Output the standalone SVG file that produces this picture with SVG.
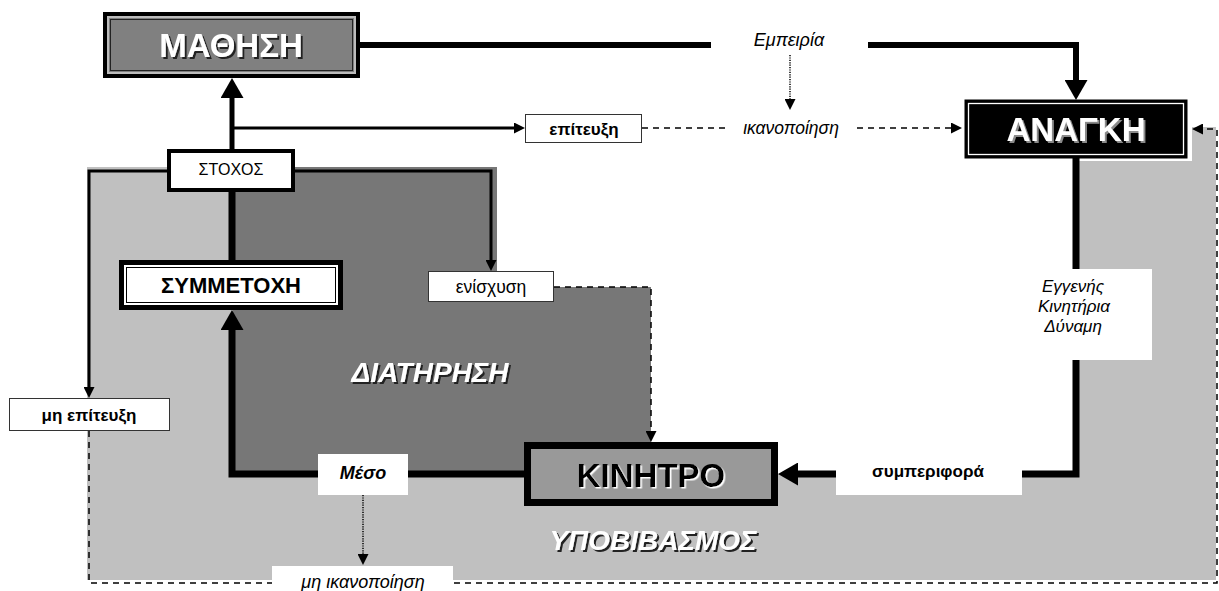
<svg xmlns="http://www.w3.org/2000/svg" width="1219" height="591" viewBox="0 0 1219 591">
<style>
text{font-family:"Liberation Sans",Arial,sans-serif;text-anchor:middle}
.lbl{font-size:17px;fill:#000}
.b{font-weight:bold}
.i{font-style:italic}
.big{font-weight:bold;font-size:33px}
.region{font-weight:bold;font-style:italic;font-size:28px;fill:#fff}
.box{fill:#fff;stroke:#333;stroke-width:1}
.wbox{fill:#fff;stroke:none}
.thick{fill:none;stroke:#000;stroke-linejoin:miter;stroke-linecap:butt}
.dash{fill:none;stroke:#000;stroke-width:1.5;stroke-dasharray:6 5}
.dot{fill:none;stroke:#000;stroke-width:1.5;stroke-dasharray:1.2 1.2}
</style>
<defs>
<marker id="ahBig" viewBox="0 0 20 23" refX="0" refY="11.5" markerWidth="20" markerHeight="23" markerUnits="userSpaceOnUse" orient="auto"><path d="M0,0 L20,11.5 L0,23 z" fill="#000"/></marker>
<marker id="ahSmall" viewBox="0 0 11 11" refX="0" refY="5.5" markerWidth="11" markerHeight="11" markerUnits="userSpaceOnUse" orient="auto"><path d="M0,0 L11,5.5 L0,11 z" fill="#000"/></marker>
<filter id="shDark" x="-10%" y="-20%" width="120%" height="150%"><feDropShadow dx="2" dy="2" stdDeviation="0" flood-color="#222" flood-opacity="1"/></filter>
<filter id="shGray" x="-10%" y="-20%" width="120%" height="150%"><feDropShadow dx="2" dy="2" stdDeviation="0" flood-color="#8a8a8a" flood-opacity="1"/></filter>
<filter id="shLight" x="-10%" y="-20%" width="120%" height="150%"><feDropShadow dx="1.5" dy="1.5" stdDeviation="0" flood-color="#fff" flood-opacity="1"/></filter>
</defs>

<g id="backgrounds">
<polygon points="87,167 497,167 497,287 651,287 651,474 1073,474 1073,161 1192,161 1192,127 1216,127 1216,580 87,580" fill="#c0c0c0"/>
<polygon points="233,167 497,167 497,287 651,287 651,474 233,474" fill="#777777"/>
</g>

<g id="connectors">
<path class="thick" stroke-width="5" d="M232,149 V98" marker-end="url(#ahBig)"/>
<path class="thick" stroke-width="6" d="M360,45 H711"/>
<path class="thick" stroke-width="6" d="M868,45 H1076 V80" marker-end="url(#ahBig)"/>
<path class="dot" d="M790,55 V99" marker-end="url(#ahSmall)"/>
<path class="thick" stroke-width="3" d="M232,128 H514" marker-end="url(#ahSmall)"/>
<path class="dash" d="M642,128 H730"/>
<path class="dash" d="M857,128 H951" marker-end="url(#ahSmall)"/>
<path class="thick" stroke-width="3" d="M167,171 H89 V387" marker-end="url(#ahSmall)"/>
<path class="thick" stroke-width="3" d="M295,171 H491 V260" marker-end="url(#ahSmall)"/>
<path class="thick" stroke-width="7" d="M232,192 V260"/>
<path class="thick" stroke-width="7" d="M524,474 H232 V330" marker-end="url(#ahBig)"/>
<path class="dash" d="M554,287 H651 V431" marker-end="url(#ahSmall)"/>
<path class="thick" stroke-width="7" d="M1076,158 V474 H798" marker-end="url(#ahBig)"/>
<path class="dash" d="M89,431 V583 H1217 V129 H1203" marker-end="url(#ahSmall)"/>
<path class="dot" d="M363,495 V554" marker-end="url(#ahSmall)"/>
</g>

<g id="mathisi">
<rect x="105" y="14" width="253" height="62" fill="#808080" stroke="#000" stroke-width="4"/>
<rect x="108" y="17" width="247" height="56" fill="none" stroke="#bdbdbd" stroke-width="2"/>
<rect x="110.5" y="19.5" width="242" height="51" fill="none" stroke="#222" stroke-width="1"/>
<text x="231" y="57" class="big" fill="#fff" filter="url(#shDark)">ΜΑΘΗΣΗ</text>
</g>

<g id="anagki">
<rect x="965" y="100" width="222" height="58" fill="#000" stroke="#000" stroke-width="1"/>
<rect x="968.5" y="103.5" width="215" height="51" fill="none" stroke="#fff" stroke-width="1.3"/>
<text x="1076" y="141" class="big" fill="#fff" filter="url(#shGray)">ΑΝΑΓΚΗ</text>
</g>

<g id="kinitro">
<rect x="527.5" y="445.5" width="247" height="57" fill="#999999" stroke="#000" stroke-width="7"/>
<text x="651" y="487" class="big" fill="#000" filter="url(#shLight)">ΚΙΝΗΤΡΟ</text>
</g>

<g id="symmetochi">
<rect x="121.5" y="262.5" width="219" height="45" fill="#fff" stroke="#000" stroke-width="5"/>
<rect x="126.5" y="267.5" width="209" height="35" fill="none" stroke="#000" stroke-width="1"/>
<text x="231" y="293" font-size="22" class="b" fill="#000">ΣΥΜΜΕΤΟΧΗ</text>
</g>

<g id="stochos">
<rect x="169" y="151" width="124" height="39" fill="#fff" stroke="#000" stroke-width="4"/>
<text x="231" y="175" font-size="16" fill="#000">ΣΤΟΧΟΣ</text>
</g>

<g id="epitefxi">
<rect x="525.5" y="114.5" width="116" height="28" class="box"/>
<text x="584" y="135" class="lbl b">επίτευξη</text>
</g>

<g id="empeiria">
<text x="789" y="46" font-size="18" class="i">Εμπειρία</text>
</g>

<g id="ikanopoiisi">
<text x="791" y="134" font-size="17.5" class="i">ικανοποίηση</text>
</g>

<g id="enischysi">
<rect x="428.5" y="271.5" width="125" height="30" class="box"/>
<text x="491" y="293" font-size="17.5">ενίσχυση</text>
</g>

<g id="mi-epitefxi">
<rect x="9.5" y="398.5" width="160" height="32" class="box"/>
<text x="89" y="421" class="lbl b">μη επίτευξη</text>
</g>

<g id="meso">
<rect x="318" y="454" width="90" height="41" class="wbox"/>
<text x="363" y="479" font-size="18" class="b i">Μέσο</text>
</g>

<g id="mi-ikanopoiisi">
<rect x="272" y="566" width="181" height="25" class="wbox"/>
<text x="363" y="588" font-size="18" class="i">μη ικανοποίηση</text>
</g>

<g id="symperifora">
<rect x="836" y="452" width="186" height="43" class="wbox"/>
<text x="928" y="477" class="lbl b">συμπεριφορά</text>
</g>

<g id="engenis">
<rect x="1000" y="269" width="152" height="91" class="wbox"/>
<text x="1073" y="292" class="lbl i">Εγγενής</text>
<text x="1074" y="312" class="lbl i">Κινητήρια</text>
<text x="1073" y="332" class="lbl i">Δύναμη</text>
</g>

<g id="diatirisi">
<text x="430" y="382" class="region" filter="url(#shDark)">ΔΙΑΤΗΡΗΣΗ</text>
</g>

<g id="ypovivasmos">
<text x="653" y="550" class="region" filter="url(#shDark)">ΥΠΟΒΙΒΑΣΜΟΣ</text>
</g>
</svg>
